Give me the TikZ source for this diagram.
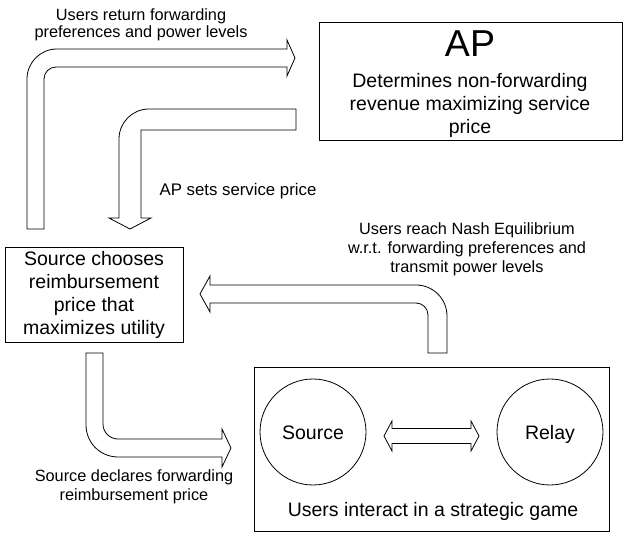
\documentclass[tikz,border=0pt]{standalone}
\usepackage{fontspec}
\setmainfont{Liberation Sans}
\begin{document}
\begin{tikzpicture}[x=1pt, y=-1pt, line width=0.8pt,
  frame/.style={draw, rectangle, inner sep=0pt},
  player/.style={draw, circle, inner sep=0pt, minimum size=106pt,
    text height=14pt, text depth=0pt, font=\fontsize{19.5}{23}\selectfont},
  lbl/.style={align=center, inner sep=0pt, font=\fontsize{16.3}{18.5}\selectfont},
  body/.style={align=center, inner sep=0pt, font=\fontsize{19.5}{23}\selectfont},
  blockarrow/.style={draw, fill=white, line join=miter}]
\useasboundingbox (0,0) rectangle (624,534);

% access point
\node[frame, minimum width=303pt, minimum height=118pt] (ap) at (470.5,81) {};
\node[inner sep=0pt, anchor=base, font=\fontsize{37.5}{40}\selectfont] (aptitle) at (470,57) {AP};
\node[body] (aptext) at (470,105) {Determines non-forwarding\\revenue maximizing service\\price};

% source decision
\node[frame, minimum width=178pt, minimum height=95pt, body] (choose) at (94,294.5)
  {Source chooses\\reimbursement\\price that\\maximizes utility};

% strategic game
\node[frame, minimum width=355pt, minimum height=164pt] (game) at (431.5,449) {};
\node[player] (src) at (313,432) {Source};
\node[player] (rly) at (550,432) {Relay};
\node[inner sep=0pt, anchor=base, font=\fontsize{19.5}{23}\selectfont] (gametext) at (433,516)
  {Users interact in a strategic game};

% block arrows
% users -> AP
\draw[blockarrow] (27,229) -- (27,79) .. controls (27,62.4) and (40.4,49) .. (57,49)
  -- (287,49) -- (287,40) -- (295,58) -- (287,76) -- (287,67) -- (56,67)
  .. controls (49.4,67) and (44,72.4) .. (44,79) -- (44,229) -- cycle;
% AP -> source
\draw[blockarrow] (296,109) -- (149,109) .. controls (132.4,109) and (119,122.4) .. (119,139)
  -- (119,218) -- (109,218) -- (130,229) -- (151,218) -- (141,218) -- (141,130)
  -- (296,130) -- cycle;
% game -> source
\draw[blockarrow] (210,285) -- (416,285) .. controls (433.1,285) and (447,298.9) .. (447,316)
  -- (447,353) -- (428,353) -- (428,315) .. controls (428,308.4) and (422.6,303) .. (416,303)
  -- (210,303) -- (210,312) -- (200,294) -- (210,276) -- cycle;
% source -> game
\draw[blockarrow] (86,353) -- (86,425) .. controls (86,442.7) and (100.3,457) .. (118,457)
  -- (222,457) -- (222,467) -- (231,448) -- (222,429) -- (222,439) -- (118,439)
  .. controls (109.7,439) and (103,432.3) .. (103,424) -- (103,353) -- cycle;
% source <-> relay
\draw[blockarrow] (384,436) -- (392,421) -- (392,428.5) -- (471,428.5) -- (471,421)
  -- (479,436) -- (471,451) -- (471,443.5) -- (392,443.5) -- (392,451) -- cycle;

% arrow labels
\node[lbl, font=\fontsize{16.3}{16.6}\selectfont] (l1) at (141,24.9)
  {Users return forwarding\\preferences and power levels};
\node[lbl, font=\fontsize{16.8}{18}\selectfont, anchor=base] (l2) at (238,195.7)
  {AP sets service price};
\node[lbl, font=\fontsize{16.3}{19}\selectfont] (l3) at (467,249.4)
  {Users reach Nash Equilibrium\\w.r.t. forwarding preferences and\\transmit power levels};
\node[lbl] (l4) at (134,486.7) {Source declares forwarding\\reimbursement price};
\end{tikzpicture}
\end{document}
